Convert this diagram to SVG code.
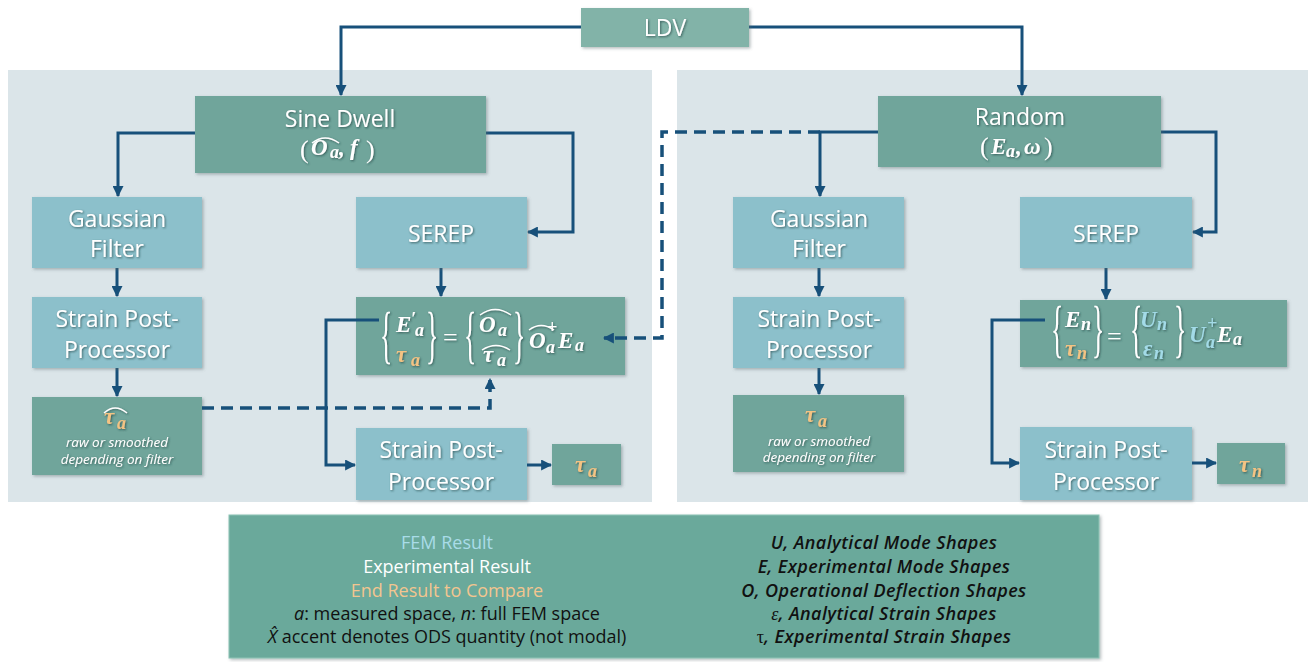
<svg xmlns="http://www.w3.org/2000/svg" width="1316" height="662" viewBox="0 0 1316 662">
<defs>
<filter id="sh" x="-10%" y="-10%" width="130%" height="130%"><feDropShadow dx="1.5" dy="1.5" stdDeviation="1.5" flood-color="#5a6a6e" flood-opacity="0.45"/></filter>
<filter id="ts" x="-10%" y="-20%" width="120%" height="140%"><feDropShadow dx="1" dy="1" stdDeviation="0.8" flood-color="#1d3b3a" flood-opacity="0.7"/></filter>
<marker id="ah" viewBox="0 0 10 10" refX="9" refY="5" markerWidth="11" markerHeight="11" markerUnits="userSpaceOnUse" orient="auto"><path d="M0,0 L10,5 L0,10 z" fill="#17507a"/></marker>
</defs>
<style>
.panel{fill:#dbe5e9}
.dk{fill:#6fa59b;filter:url(#sh)}
.lt{fill:#8cc0cb;filter:url(#sh)}
.ldv{fill:#82b3a8;filter:url(#sh)}
.t{font-family:"Open Sans",Lato,sans-serif;font-size:23px;fill:#ffffff;text-anchor:middle;filter:url(#ts)}
.s{font-family:"Open Sans",Lato,sans-serif;font-size:13.5px;fill:#ffffff;text-anchor:middle;font-style:italic;filter:url(#ts)}
.m{font-family:"Liberation Serif",serif;font-weight:bold;font-style:italic;font-size:23px;fill:#ffffff}
.ms{font-family:"Liberation Serif",serif;font-weight:bold;font-style:italic;font-size:18px;fill:#ffffff}
.br{font-family:"Liberation Serif",serif;font-size:64px;fill:#ffffff}
.op{font-family:"Liberation Serif",serif;font-size:26px;fill:#ffffff}
.or{fill:#f3c383}
.bl{fill:#a3dbe8}
.hat{fill:none;stroke:#ffffff;stroke-width:1.4}
.c{fill:none;stroke:#17507a;stroke-width:3}
.d{fill:none;stroke:#17507a;stroke-width:3.5;stroke-dasharray:12 7}
.lg{font-family:"Open Sans",Lato,sans-serif;font-size:18px;text-anchor:middle;fill:#111}
.lgr{font-family:"Open Sans",Lato,sans-serif;font-size:18px;letter-spacing:0.4px;text-anchor:middle;fill:#111;font-style:italic;font-weight:600}
</style>

<rect class="panel" x="8" y="70" width="644" height="432"/>
<rect class="panel" x="677" y="70" width="631" height="432"/>

<g id="connectors">
<path class="c" d="M581,27 H341 V95" marker-end="url(#ah)"/>
<path class="c" d="M749,27 H1022 V95" marker-end="url(#ah)"/>
<path class="c" d="M195,133 H118 V196" marker-end="url(#ah)"/>
<path class="c" d="M486,133 H573 V232 H528" marker-end="url(#ah)"/>
<path class="c" d="M117,268 V296" marker-end="url(#ah)"/>
<path class="c" d="M117,368 V396" marker-end="url(#ah)"/>
<path class="c" d="M441,268 V296" marker-end="url(#ah)"/>
<path class="c" d="M878,132 H820 V196" marker-end="url(#ah)"/>
<path class="c" d="M1161,132 H1216 V232 H1193" marker-end="url(#ah)"/>
<path class="c" d="M819,268 V296" marker-end="url(#ah)"/>
<path class="c" d="M819,368 V394" marker-end="url(#ah)"/>
<path class="c" d="M1106,268 V299" marker-end="url(#ah)"/>
</g>

<g id="ldv"><rect class="ldv" x="581" y="8" width="168" height="39"/><text class="t" x="665" y="36" font-size="21">LDV</text></g>

<g id="sine-dwell">
<rect class="dk" x="195" y="96" width="291" height="77"/>
<text class="t" x="340" y="127">Sine Dwell</text>
<g filter="url(#ts)">
<text class="op" x="300" y="158" font-size="32">(</text>
<text class="m" x="311" y="155" font-size="20">O</text><text class="ms" x="330" y="158" font-size="17">a</text>
<text class="m" x="339" y="155" font-size="20">,</text>
<text class="m" x="350" y="155" font-size="20">f</text>
<text class="op" x="366" y="158" font-size="32">)</text>
<path class="hat" d="M312,143 Q325,133 339,143"/>
</g>
</g>

<g id="random">
<rect class="dk" x="878" y="96" width="283" height="71"/>
<text class="t" x="1020" y="125">Random</text>
<g filter="url(#ts)">
<text class="op" x="980" y="155" font-size="26">(</text>
<text class="m" x="991" y="154" font-size="21">E</text><text class="ms" x="1006" y="157" font-size="17">a</text>
<text class="m" x="1016" y="154" font-size="21">,</text>
<text class="m" x="1024" y="154" font-size="21">ω</text>
<text class="op" x="1044" y="155" font-size="26">)</text>
</g>
</g>

<g id="gauss-l"><rect class="lt" x="32" y="197" width="170" height="71"/><text class="t" x="117" y="227">Gaussian</text><text class="t" x="117" y="257">Filter</text></g>
<g id="serep-l"><rect class="lt" x="356" y="197" width="171" height="71"/><text class="t" x="441" y="242">SEREP</text></g>
<g id="spp-l"><rect class="lt" x="32" y="297" width="170" height="71"/><text class="t" x="117" y="327">Strain Post-</text><text class="t" x="117" y="358">Processor</text></g>

<g id="tauhat-l">
<rect class="dk" x="32" y="397" width="170" height="78"/>
<g filter="url(#ts)">
<text class="m or" x="104" y="424" font-size="25">τ</text><text class="ms or" x="117" y="429" font-size="17">a</text>
<path class="hat" d="M104,413 Q115,403 127,413" stroke="#f3c383"/>
</g>
<text class="s" x="117" y="447">raw or smoothed</text>
<text class="s" x="117" y="464" font-style="normal">depending on filter</text>
</g>

<g id="eq-l">
<rect class="dk" x="356" y="297" width="269" height="78"/>
<g filter="url(#ts)">
<text class="br" transform="translate(380,356) scale(0.4,1)">{</text>
<text class="m" x="396" y="332">E</text><text class="ms" x="411" y="325" font-size="16">′</text><text class="ms" x="415" y="336">a</text>
<text class="m or" x="396" y="362">τ</text><text class="ms or" x="411" y="366">a</text>
<text class="br" transform="translate(426,356) scale(0.4,1)">}</text>
<text class="op" x="443" y="346">=</text>
<text class="br" transform="translate(464,356) scale(0.4,1)">{</text>
<text class="m" x="479" y="332">O</text><text class="ms" x="498" y="336">a</text>
<path class="hat" d="M480,315 Q495,304 511,315"/>
<text class="m" x="483" y="362">τ</text><text class="ms" x="497" y="366">a</text>
<path class="hat" d="M482,350 Q496,341 510,350"/>
<text class="br" transform="translate(513,356) scale(0.4,1)">}</text>
<text class="m" x="529" y="348">O</text><text class="ms" x="547" y="333" font-size="13">+</text><text class="ms" x="546" y="353" font-size="16">a</text>
<path class="hat" d="M529,330 Q541,321 554,330"/>
<text class="m" x="558" y="348">E</text><text class="ms" x="575" y="351">a</text>
</g>
</g>

<g id="spp-l2"><rect class="lt" x="356" y="428" width="171" height="72"/><text class="t" x="441" y="458">Strain Post-</text><text class="t" x="441" y="490">Processor</text></g>
<g id="tau-l"><rect class="dk" x="552" y="444" width="69" height="41"/><g filter="url(#ts)"><text class="m or" x="575" y="472" font-size="25">τ</text><text class="ms or" x="588" y="477" font-size="19">a</text></g></g>

<g id="gauss-r"><rect class="lt" x="733" y="197" width="171" height="71"/><text class="t" x="819" y="227">Gaussian</text><text class="t" x="819" y="257">Filter</text></g>
<g id="serep-r"><rect class="lt" x="1020" y="197" width="172" height="71"/><text class="t" x="1106" y="242">SEREP</text></g>
<g id="spp-r"><rect class="lt" x="733" y="297" width="171" height="71"/><text class="t" x="819" y="327">Strain Post-</text><text class="t" x="819" y="358">Processor</text></g>

<g id="tau-r">
<rect class="dk" x="733" y="395" width="171" height="77"/>
<g filter="url(#ts)"><text class="m or" x="805" y="422" font-size="25">τ</text><text class="ms or" x="818" y="427" font-size="17">a</text></g>
<text class="s" x="819" y="446">raw or smoothed</text>
<text class="s" x="819" y="462" font-style="normal">depending on filter</text>
</g>

<g id="eq-r">
<rect class="dk" x="1020" y="300" width="267" height="67"/>
<g filter="url(#ts)">
<text class="br" transform="translate(1051,350) scale(0.4,1)" font-size="58">{</text>
<text class="m" x="1065" y="327" font-size="21">E</text><text class="ms" x="1081" y="330" font-size="16">n</text>
<text class="m or" x="1065" y="356" font-size="21">τ</text><text class="ms or" x="1077" y="359" font-size="16">n</text>
<text class="br" transform="translate(1092,350) scale(0.4,1)" font-size="58">}</text>
<text class="op" x="1107" y="345" font-size="24">=</text>
<text class="br" transform="translate(1130,350) scale(0.4,1)" font-size="58">{</text>
<text class="m bl" x="1140" y="327" font-size="21">U</text><text class="ms bl" x="1157" y="330" font-size="16">n</text>
<text class="m bl" x="1143" y="356" font-size="21">ε</text><text class="ms bl" x="1154" y="359" font-size="16">n</text>
<text class="br" transform="translate(1174,350) scale(0.4,1)" font-size="58">}</text>
<text class="m bl" x="1189" y="342" font-size="21">U</text><text class="ms bl" x="1207" y="329" font-size="12">+</text><text class="ms bl" x="1206" y="348" font-size="15">a</text>
<text class="m" x="1217" y="342" font-size="21">E</text><text class="ms" x="1233" y="345" font-size="16">a</text>
</g>
</g>

<g id="spp-r2"><rect class="lt" x="1020" y="427" width="172" height="73"/><text class="t" x="1106" y="458">Strain Post-</text><text class="t" x="1106" y="490">Processor</text></g>
<g id="tau-n"><rect class="dk" x="1217" y="443" width="68" height="41"/><g filter="url(#ts)"><text class="m or" x="1239" y="472" font-size="25">τ</text><text class="ms or" x="1252" y="477" font-size="19">n</text></g></g>

<g id="connectors-over">
<path class="d" d="M202,408 H490 V379" marker-end="url(#ah)"/>
<path class="c" d="M379,320 H326 V465 H355" marker-end="url(#ah)"/>
<path class="c" d="M527,465 H551" marker-end="url(#ah)"/>
<path class="d" d="M820,132 H662 V338 H604" marker-end="url(#ah)"/>
<path class="c" d="M1045,320 H992 V463 H1019" marker-end="url(#ah)"/>
<path class="c" d="M1192,463 H1216" marker-end="url(#ah)"/>
</g>

<g id="legend">
<rect x="229" y="515" width="870" height="143" fill="#6aa99b" stroke="#8cc3b5" stroke-width="1" filter="url(#sh)"/>
<text class="lg" x="447" y="549" style="fill:#a9dce8">FEM Result</text>
<text class="lg" x="447" y="573" style="fill:#ffffff">Experimental Result</text>
<text class="lg" x="447" y="597" style="fill:#f3c58f">End Result to Compare</text>
<text class="lg" x="447" y="620"><tspan font-style="italic">a</tspan>: measured space, <tspan font-style="italic">n</tspan>: full FEM space</text>
<text class="lg" x="447" y="643"><tspan font-style="italic">X̂</tspan> accent denotes ODS quantity (not modal)</text>
<text class="lgr" x="884" y="549">U, Analytical Mode Shapes</text>
<text class="lgr" x="884" y="573">E, Experimental Mode Shapes</text>
<text class="lgr" x="884" y="597">O, Operational Deflection Shapes</text>
<text class="lgr" x="884" y="620"><tspan font-family="Liberation Serif" font-weight="normal">ε</tspan>, Analytical Strain Shapes</text>
<text class="lgr" x="884" y="643"><tspan font-family="Liberation Serif" font-weight="normal" font-style="normal">τ</tspan>, Experimental Strain Shapes</text>
</g>
</svg>
